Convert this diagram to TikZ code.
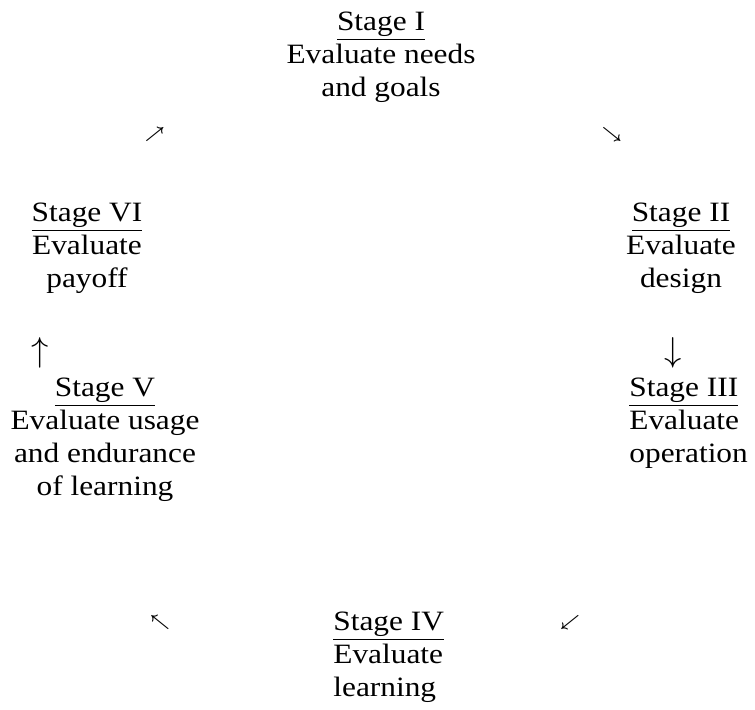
\documentclass[tikz,border=0pt]{standalone}
\usepackage{fontspec}
\setmainfont[FakeStretch=1.12]{Liberation Serif}
\tikzset{
    stage/.style={inner sep=0pt, align=center, font=\fontsize{14}{16.5}\selectfont},
    stageleft/.style={stage, align=left, anchor=west},
    tinyarrow/.style={inner sep=0pt, font=\fontsize{8}{8}\selectfont\boldmath},
    bigarrow/.style={inner sep=0pt, font=\fontsize{17.5}{18}\selectfont}
}
\begin{document}
\begin{tikzpicture}[x=0.5pt, y=-0.5pt]
                \useasboundingbox (0,0) rectangle (755,709);
                \node[stage] (stageone) at (381,57) {\underline{Stage I}\\Evaluate needs\\and goals};
                \node[stage] (stagetwo) at (681,248) {\underline{Stage II}\\Evaluate\\design};
                \node[stageleft] (stagethree) at (629,423) {\underline{Stage III}\\Evaluate\\operation};
                \node[stageleft] (stagefour) at (333,657) {\underline{Stage IV}\\Evaluate\\learning};
                \node[stage] (stagefive) at (105,440) {\underline{Stage V}\\Evaluate usage\\and endurance\\of learning};
                \node[stage] (stagesix) at (87,248) {\underline{Stage VI}\\Evaluate\\payoff};
                \node[tinyarrow] (upright) at (155,134) {$\nearrow$};
                \node[tinyarrow] (downright) at (612,134) {$\searrow$};
                \node[bigarrow] (down) at (673,353) {$\downarrow$};
                \node[tinyarrow] (downleft) at (570,622) {$\swarrow$};
                \node[tinyarrow] (upleft) at (160,622) {$\nwarrow$};
                \node[bigarrow] (up) at (40,353) {$\uparrow$};
            \end{tikzpicture}
\end{document}
